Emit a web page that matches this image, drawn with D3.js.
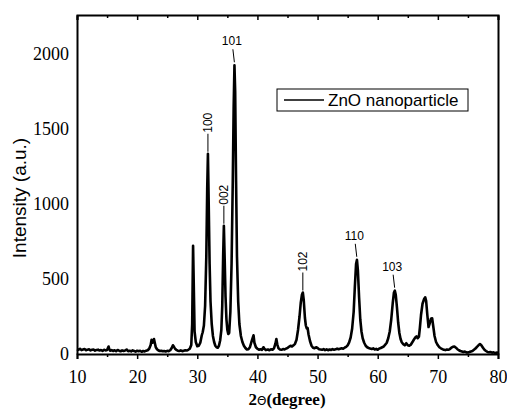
<!DOCTYPE html>
<html>
<head>
<meta charset="utf-8">
<script src="https://cdn.jsdelivr.net/npm/d3@7"></script>
<style>
  body { margin: 0; background: #fff; }
  svg { display: block; }
</style>
</head>
<body>
<div id="chart"></div>
<script>
// XRD pattern: 2theta (degree) and intensity (a.u.)
var twoTheta = [
  10.0, 10.25, 10.5, 10.75, 11.0, 11.25, 11.5, 11.75, 12.0, 12.25, 12.5, 12.75,
  13.0, 13.25, 13.5, 13.75, 14.0, 14.25, 14.5, 14.75, 15.0, 15.25, 15.4, 15.5,
  15.75, 16.0, 16.25, 16.5, 16.75, 17.0, 17.25, 17.5, 17.75, 18.0, 18.25, 18.5,
  18.75, 19.0, 19.25, 19.5, 19.75, 20.0, 20.25, 20.5, 20.75, 21.0, 21.25, 21.5,
  21.75, 22.0, 22.25, 22.4, 22.55, 22.7, 22.8, 22.95, 23.1, 23.3, 23.5, 23.75,
  24.0, 24.25, 24.5, 24.75, 25.0, 25.25, 25.5, 25.75, 25.95, 26.1, 26.3, 26.5,
  26.75, 27.0, 27.25, 27.5, 27.75, 28.0, 28.25, 28.5, 28.75, 29.0, 29.15, 29.3,
  29.42, 29.55, 29.75, 30.0, 30.25, 30.5, 30.75, 30.9, 31.1, 31.3, 31.5, 31.65,
  31.77, 31.9, 32.05, 32.2, 32.4, 32.6, 32.8, 33.0, 33.2, 33.4, 33.6, 33.8,
  34.0, 34.15, 34.3, 34.42, 34.55, 34.7, 34.85, 35.0, 35.15, 35.3, 35.5, 35.7,
  35.9, 36.05, 36.18, 36.3, 36.45, 36.6, 36.8, 37.0, 37.25, 37.5, 37.75, 38.0,
  38.25, 38.5, 38.75, 39.0, 39.2, 39.35, 39.5, 39.75, 40.0, 40.25, 40.5, 40.75,
  41.0, 41.15, 41.4, 41.75, 42.0, 42.25, 42.5, 42.75, 43.0, 43.15, 43.3, 43.5,
  43.75, 44.0, 44.25, 44.5, 44.75, 45.0, 45.25, 45.5, 45.75, 46.0, 46.25, 46.5,
  46.75, 47.0, 47.2, 47.4, 47.55, 47.7, 47.9, 48.05, 48.2, 48.35, 48.5, 48.75,
  49.0, 49.25, 49.5, 49.75, 50.0, 50.25, 50.5, 50.75, 51.0, 51.25, 51.5, 51.75,
  52.0, 52.25, 52.5, 52.75, 53.0, 53.25, 53.5, 53.75, 54.0, 54.25, 54.5, 54.75,
  55.0, 55.25, 55.5, 55.75, 56.0, 56.2, 56.4, 56.55, 56.7, 56.9, 57.1, 57.3,
  57.5, 57.75, 58.0, 58.25, 58.5, 58.75, 59.0, 59.25, 59.5, 59.75, 60.0, 60.25,
  60.5, 60.75, 61.0, 61.25, 61.5, 61.75, 62.0, 62.25, 62.5, 62.7, 62.85, 63.0,
  63.2, 63.4, 63.6, 63.8, 64.0, 64.25, 64.5, 64.75, 65.0, 65.25, 65.5, 65.75,
  66.0, 66.25, 66.45, 66.65, 66.85, 67.0, 67.2, 67.45, 67.7, 67.9, 68.05, 68.25,
  68.45, 68.65, 68.85, 69.05, 69.25, 69.45, 69.7, 70.0, 70.25, 70.5, 70.75, 71.0,
  71.25, 71.5, 71.75, 72.0, 72.25, 72.5, 72.75, 73.0, 73.25, 73.5, 73.75, 74.0,
  74.25, 74.5, 74.75, 75.0, 75.25, 75.5, 75.75, 76.0, 76.25, 76.5, 76.75, 77.0,
  77.2, 77.5, 77.75, 78.0, 78.25, 78.5, 78.75, 79.0, 79.25, 79.5, 79.75, 80.0
];
var intensity = [
  32, 28, 35, 26, 30, 33, 25, 29, 31, 24, 28, 30,
  22, 27, 29, 23, 26, 21, 28, 24, 27, 50, 30, 22,
  26, 20, 25, 19, 27, 22, 18, 24, 20, 23, 30, 19,
  22, 17, 24, 20, 16, 22, 18, 21, 15, 20, 17, 22,
  25, 35, 60, 95, 75, 85, 100, 72, 45, 32, 25, 20,
  22, 18, 20, 17, 21, 19, 25, 40, 58, 50, 35, 28,
  22, 20, 24, 19, 22, 25, 23, 28, 35, 60, 200, 722,
  450, 150, 80, 52, 55, 75, 125, 145, 190, 320, 650, 1100,
  1335, 1000, 600, 350, 200, 120, 80, 55, 45, 42, 55, 90,
  160, 320, 650, 855, 640, 380, 230, 160, 133, 140, 280, 600,
  1150, 1650, 1925, 1750, 1150, 650, 350, 200, 120, 80, 55, 40,
  30, 32, 45, 80, 105, 125, 75, 45, 35, 28, 32, 27,
  45, 35, 26, 30, 25, 32, 28, 38, 70, 100, 65, 38,
  30, 28, 33, 30, 36, 40, 48, 55, 50, 58, 68, 95,
  160, 250, 340, 395, 410, 360, 240, 190, 170, 172, 130, 85,
  55, 42, 38, 45, 40, 32, 30, 28, 33, 26, 31, 25,
  30, 27, 33, 28, 31, 36, 32, 35, 38, 35, 42, 48,
  58, 78, 110, 170, 280, 450, 600, 628, 560, 380, 230, 150,
  105, 75, 55, 45, 40, 36, 33, 38, 30, 34, 28, 36,
  40, 45, 50, 62, 75, 105, 150, 230, 340, 410, 422, 395,
  310, 210, 140, 100, 78, 65, 58, 72, 58, 55, 62, 78,
  95, 110, 118, 105, 115, 170, 260, 335, 365, 378, 355, 260,
  180, 205, 235, 238, 180, 120, 80, 58, 45, 38, 33, 28,
  26, 30, 28, 33, 42, 48, 50, 42, 32, 25, 20, 17,
  13, 16, 11, 10, 13, 17, 20, 28, 36, 48, 58, 66,
  60, 42, 28, 20, 14, 11, 13, 9, 11, 7, 9, 10
];
var xTicks = [10, 20, 30, 40, 50, 60, 70, 80];
var xMinorTicks = [15, 25, 35, 45, 55, 65, 75];
var yTicks = [0, 500, 1000, 1500, 2000];

// Miller indices of the ZnO peaks, with peak position and height
var peakNames = ["100", "002", "101", "102", "110", "103"];
var peakPos = [31.77, 34.42, 36.25, 47.55, 56.6, 62.9];
var peakTop = [1335, 855, 1925, 410, 628, 422];
var peakVertical = [true, true, false, true, false, false];

var seriesName = "ZnO nanoparticle";

var SERIF = "'Liberation Serif', 'Times New Roman', serif";
var SANS = "'Liberation Sans', Arial, sans-serif";

var width = 507, height = 409;
var margin = {top: 15, right: 9, bottom: 55, left: 77};

var x = d3.scaleLinear().domain([10, 80]).range([margin.left, width - margin.right]);
var y = d3.scaleLinear().domain([0, 2260]).range([height - margin.bottom, margin.top]);

var svg = d3.select("#chart").append("svg")
    .attr("width", width)
    .attr("height", height);

var points = twoTheta.map(function(t, i) { return [t, intensity[i]]; });

var line = d3.line()
    .x(function(d) { return x(d[0]); })
    .y(function(d) { return y(d[1]); });

// the pattern
svg.append("path")
    .datum(points)
    .attr("fill", "none")
    .attr("stroke", "#000")
    .attr("stroke-width", 2.6)
    .attr("stroke-linejoin", "round")
    .attr("d", line);

// bottom axis, major + minor ticks
svg.append("g")
    .attr("transform", "translate(0," + y(0) + ")")
    .call(d3.axisBottom(x).tickValues(xTicks).tickSize(5).tickPadding(11).tickFormat(d3.format("d")));
svg.append("g")
    .attr("transform", "translate(0," + y(0) + ")")
    .call(d3.axisBottom(x).tickValues(xMinorTicks).tickSize(3).tickFormat(""))
    .select(".domain").remove();

// top axis, ticks pointing in
svg.append("g")
    .attr("transform", "translate(0," + margin.top + ")")
    .call(d3.axisTop(x).tickValues(xTicks).tickSize(-5).tickFormat(""));
svg.append("g")
    .attr("transform", "translate(0," + margin.top + ")")
    .call(d3.axisTop(x).tickValues(xMinorTicks).tickSize(-3).tickFormat(""))
    .select(".domain").remove();

// left axis, labels only
svg.append("g")
    .attr("transform", "translate(" + margin.left + ",0)")
    .call(d3.axisLeft(y).tickValues(yTicks).tickSize(0).tickPadding(8).tickFormat(d3.format("d")));

// right frame line
svg.append("g")
    .attr("transform", "translate(" + (width - margin.right) + ",0)")
    .call(d3.axisRight(y).tickValues([]).tickSize(0));

svg.selectAll(".domain")
    .attr("stroke", "#000")
    .attr("stroke-width", 2);
svg.selectAll(".tick line")
    .attr("stroke", "#000")
    .attr("stroke-width", 1.5);
svg.selectAll(".tick text")
    .style("font-family", SERIF)
    .style("font-size", "18px")
    .attr("fill", "#000");

// axis titles
svg.append("text")
    .attr("transform", "translate(26,198) rotate(-90)")
    .attr("text-anchor", "middle")
    .style("font-family", SANS)
    .style("font-size", "19px")
    .text("Intensity (a.u.)");

var xt = svg.append("text")
    .attr("x", 287)
    .attr("y", 405)
    .attr("text-anchor", "middle")
    .style("font-family", SERIF)
    .style("font-weight", "bold")
    .style("font-size", "17px");
xt.append("tspan").text("2");
xt.append("tspan")
    .style("font-family", "'DejaVu Sans', sans-serif")
    .style("font-weight", "normal")
    .style("font-size", "12px")
    .text("\u0398");
xt.append("tspan").text("(degree)");

// peak labels with leader lines
var peaks = peakNames.map(function(n, i) {
    return {name: n, pos: peakPos[i], top: peakTop[i], vertical: peakVertical[i]};
});
var pg = svg.append("g");
peaks.forEach(function(p) {
    var px = x(p.pos), py = y(p.top);
    if (p.vertical) {
        pg.append("line")
            .attr("x1", px).attr("x2", px)
            .attr("y1", py - 2).attr("y2", py - 20)
            .attr("stroke", "#000").attr("stroke-width", 1);
        pg.append("text")
            .attr("transform", "translate(" + (px + 4) + "," + (py - 21) + ") rotate(-90)")
            .attr("text-anchor", "start")
            .style("font-family", SANS)
            .style("font-size", "12px")
            .text(p.name);
    } else {
        pg.append("line")
            .attr("x1", px - 0.5).attr("x2", px - 2)
            .attr("y1", py - 3).attr("y2", py - 16)
            .attr("stroke", "#000").attr("stroke-width", 1);
        pg.append("text")
            .attr("x", px - 3)
            .attr("y", py - 20)
            .attr("text-anchor", "middle")
            .style("font-family", SANS)
            .style("font-size", "12px")
            .text(p.name);
    }
});

// legend
var lg = svg.append("g");
lg.append("rect")
    .attr("x", 277).attr("y", 89)
    .attr("width", 191).attr("height", 22)
    .attr("fill", "#fff")
    .attr("stroke", "#000")
    .attr("stroke-width", 1);
lg.append("line")
    .attr("x1", 284).attr("x2", 324)
    .attr("y1", 100).attr("y2", 100)
    .attr("stroke", "#000").attr("stroke-width", 1.5);
lg.append("text")
    .attr("x", 328).attr("y", 106)
    .style("font-family", SANS)
    .style("font-size", "17px")
    .text(seriesName);
</script>
</body>
</html>
